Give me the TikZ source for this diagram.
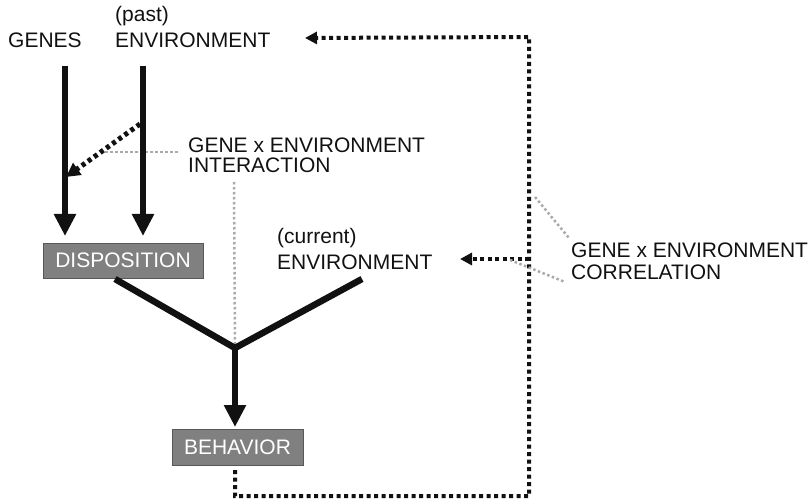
\documentclass[tikz,border=0pt]{standalone}
\usepackage{fontspec}
\setmainfont{Liberation Sans}
\usetikzlibrary{arrows.meta}
\definecolor{ink}{HTML}{111111}
\definecolor{boxgray}{HTML}{808080}
\definecolor{leadgray}{HTML}{AAAAAA}
\tikzset{
  lbl/.style={anchor=base west, inner sep=0pt, text=ink, font=\fontsize{21}{23}\selectfont},
  boxnode/.style={draw=ink!70, line width=0.8pt, fill=boxgray, text=white, inner sep=0pt,
    font=\fontsize{21}{23}\selectfont},
  causal/.style={draw=ink, line width=6.5pt, -{Triangle[length=22pt,width=21pt]}},
  bar/.style={draw=ink, line width=6.5pt},
  feedback/.style={draw=ink, line width=4pt, dash pattern=on 4pt off 3.5pt},
  feedarrow/.style={feedback, -{Triangle[length=12pt,width=12pt]}},
  leader/.style={draw=leadgray, line width=2.5pt, dash pattern=on 2.5pt off 2.5pt}
}
\begin{document}
\begin{tikzpicture}[x=1pt,y=-1pt]
\useasboundingbox (0,0) rectangle (811,502);

% labels
\node[lbl] (genes) at (8,48) {GENES};
\node[lbl] (past) at (115,22) {(past)};
\node[lbl] (pastenv) at (115,48) {ENVIRONMENT};
\node[lbl] (gxe1) at (188,153) {GENE x ENVIRONMENT};
\node[lbl] (gxe2) at (188,173) {INTERACTION};
\node[lbl] (current) at (277,244) {(current)};
\node[lbl] (curenv) at (277,270) {ENVIRONMENT};
\node[lbl] (rge1) at (571,258) {GENE x ENVIRONMENT};
\node[lbl] (rge2) at (571,280) {CORRELATION};

% boxes
\node[boxnode, minimum width=160pt, minimum height=35pt] (disp) at (123,260.5) {DISPOSITION};
\node[boxnode, minimum width=131pt, minimum height=36pt] (behav) at (237.5,447) {BEHAVIOR};

% points of the causal paths
\coordinate (gtop) at (65,66);
\coordinate (etop) at (143,66);
\coordinate (gtip) at (65,236);
\coordinate (etip) at (143,236);
\coordinate (dout) at (115,279);
\coordinate (cin) at (362,279);
\coordinate (join) at (235,348);
\coordinate (btip) at (235,427);

% gray leaders
\coordinate (ixl) at (105,152);
\coordinate (ixr) at (180,152);
\coordinate (ixv) at (234,182);
\draw[leader] (ixl) -- (ixr);
\draw[leader] (ixv) -- (join);

% main causal arrows
\draw[causal] (gtop) -- (gtip);
\draw[causal] (etop) -- (etip);
\draw[bar, line join=miter] (dout) -- (join) -- (cin);
\draw[causal] (join) -- (btip);

% interaction arrow
\coordinate (ixs) at (140,124);
\coordinate (ixe) at (66,177);
\draw[feedarrow, line width=5pt, -{Triangle[length=14pt,width=14pt]}] (ixs) -- (ixe);

% feedback loop
\coordinate (bb) at (235,470);
\coordinate (bl) at (235,496);
\coordinate (br) at (529,496);
\coordinate (tr) at (529,37);
\coordinate (ptip) at (305,38);
\coordinate (mr) at (529,259);
\coordinate (ctip) at (460,259);
\draw[feedarrow] (bb) -- (bl) -- (br) -- (tr) -- (ptip);
\draw[feedarrow] (mr) -- (ctip);

% correlation leaders
\coordinate (c1a) at (535,197);
\coordinate (c1b) at (569,238);
\coordinate (c2a) at (510,260);
\coordinate (c2b) at (565,282);
\draw[leader] (c1a) -- (c1b);
\draw[leader] (c2a) -- (c2b);
\end{tikzpicture}
\end{document}
